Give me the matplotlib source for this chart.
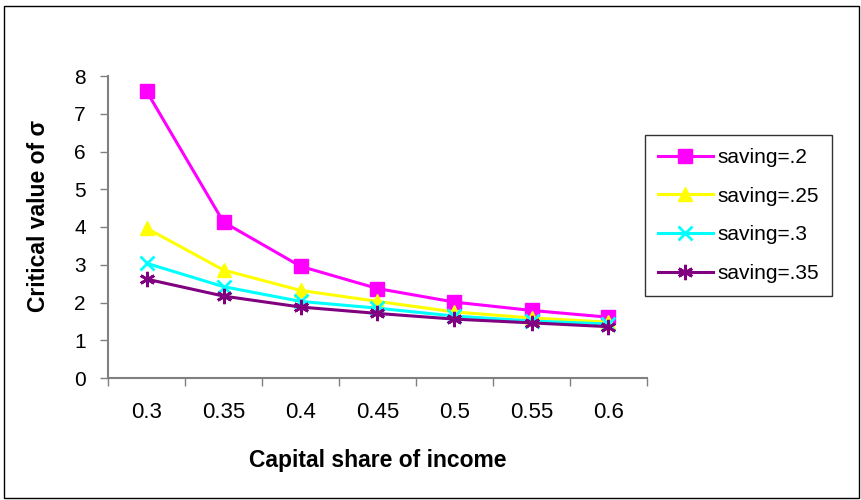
import matplotlib.pyplot as plt
import numpy as np
from matplotlib.patches import Rectangle

plt.rcParams['font.family'] = ['Liberation Sans', 'DejaVu Sans']

capital_share = ['0.3', '0.35', '0.4', '0.45', '0.5', '0.55', '0.6']
saving_20 = [7.60, 4.13, 2.96, 2.37, 2.01, 1.79, 1.61]
saving_25 = [3.97, 2.86, 2.32, 2.03, 1.75, 1.59, 1.48]
saving_30 = [3.04, 2.42, 2.03, 1.85, 1.64, 1.51, 1.43]
saving_35 = [2.62, 2.17, 1.88, 1.71, 1.56, 1.46, 1.36]
series_labels = ['saving=.2', 'saving=.25', 'saving=.3', 'saving=.35']

fig = plt.figure(figsize=(8.61, 5.0), dpi=100)
ax = fig.add_axes([108/861, 122/500, 539/861, 302/500])

x = np.arange(len(capital_share))
ax.plot(x, saving_20, color='#FF00FF', lw=2.2, marker='s', ms=10, mec='#FF00FF', label=series_labels[0])
ax.plot(x, saving_25, color='#FFFF00', lw=2.2, marker='^', ms=10, mec='#FFFF00', label=series_labels[1])
ax.plot(x, saving_30, color='#00FFFF', lw=2.2, marker='x', ms=10, mew=2, label=series_labels[2])
ax.plot(x, saving_35, color='#800080', lw=2.2, marker=(6, 2, 0), ms=11, mew=2, label=series_labels[3])

ax.set_xlim(-0.5, len(capital_share) - 0.5)
ax.set_ylim(0, 8)
ax.set_yticks(range(0, 9))
ax.set_xticks(x)
ax.set_xticklabels(capital_share)
ax.set_xticks(np.arange(-0.5, len(capital_share)), minor=True)
ax.tick_params(axis='x', which='major', length=0, pad=17, labelsize=16)
ax.tick_params(axis='x', which='minor', length=6, width=1, color='#808080', direction='out')
ax.tick_params(axis='y', length=6, width=1, color='#808080', direction='out', labelsize=15, pad=10)

for side in ['top', 'right']:
    ax.spines[side].set_visible(False)
for side in ['left', 'bottom']:
    ax.spines[side].set_color('#808080')
    ax.spines[side].set_linewidth(1.5)

ax.set_xlabel('Capital share of income', fontsize=16.5, fontweight='bold')
ax.set_ylabel('Critical value of σ', fontsize=16.5, fontweight='bold')
ax.xaxis.set_label_coords(0.5, -71/302)
ax.yaxis.set_label_coords(-58/539, 0.535)

leg = ax.legend(loc='center left', bbox_to_anchor=(645/861, 284.5/500), bbox_transform=fig.transFigure,
                fontsize=15, frameon=True, fancybox=False, edgecolor='black',
                handlelength=2.65, labelspacing=0.95, borderpad=0.6, handletextpad=0.25,
                borderaxespad=0)
leg.get_frame().set_linewidth(1)

fig.patches.append(Rectangle((4/861, 2/500), 855/861, 492/500, transform=fig.transFigure,
                             fill=False, edgecolor='black', lw=1))

fig.savefig('out.png', dpi=100)
